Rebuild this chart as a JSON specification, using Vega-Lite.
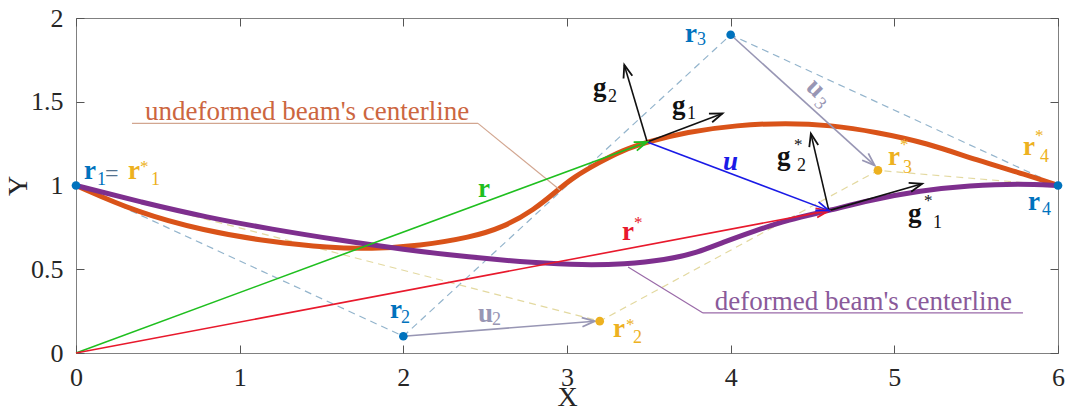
{
  "$schema": "https://vega.github.io/schema/vega-lite/v6.json",
  "autosize": {"type": "none"},
  "padding": {"left": 76, "top": 18, "right": 9, "bottom": 66},
  "width": 982,
  "height": 335,
  "background": "white",
  "config": {
    "view": {"stroke": "#808080", "strokeWidth": 1},
    "axis": {"grid": false, "domain": false, "tickSize": -8, "tickColor": "#555555", "tickWidth": 1,
      "labelFont": "Liberation Serif, Times New Roman, serif", "labelFontSize": 26, "labelColor": "#262626",
      "titleFont": "Liberation Serif, Times New Roman, serif", "titleFontSize": 28, "titleFontWeight": "normal", "titleColor": "#262626"},
    "text": {"font": "Liberation Serif, Times New Roman, serif"}
  },
  "datasets": {
    "curves": [
      {"grp": "undeformed", "i": 0, "x": 0, "y": 1},
      {"grp": "undeformed", "i": 1, "x": 0.37, "y": 0.84},
      {"grp": "undeformed", "i": 2, "x": 0.78, "y": 0.73},
      {"grp": "undeformed", "i": 3, "x": 1.19, "y": 0.663},
      {"grp": "undeformed", "i": 4, "x": 1.55, "y": 0.627},
      {"grp": "undeformed", "i": 5, "x": 1.8, "y": 0.622},
      {"grp": "undeformed", "i": 6, "x": 2.1, "y": 0.64},
      {"grp": "undeformed", "i": 7, "x": 2.41, "y": 0.69},
      {"grp": "undeformed", "i": 8, "x": 2.61, "y": 0.75},
      {"grp": "undeformed", "i": 9, "x": 2.8, "y": 0.855},
      {"grp": "undeformed", "i": 10, "x": 2.94, "y": 0.97},
      {"grp": "undeformed", "i": 11, "x": 3.04, "y": 1.05},
      {"grp": "undeformed", "i": 12, "x": 3.2, "y": 1.14},
      {"grp": "undeformed", "i": 13, "x": 3.34, "y": 1.21},
      {"grp": "undeformed", "i": 14, "x": 3.49, "y": 1.26},
      {"grp": "undeformed", "i": 15, "x": 3.73, "y": 1.319},
      {"grp": "undeformed", "i": 16, "x": 4.04, "y": 1.361},
      {"grp": "undeformed", "i": 17, "x": 4.34, "y": 1.373},
      {"grp": "undeformed", "i": 18, "x": 4.61, "y": 1.361},
      {"grp": "undeformed", "i": 19, "x": 4.89, "y": 1.319},
      {"grp": "undeformed", "i": 20, "x": 5.2, "y": 1.254},
      {"grp": "undeformed", "i": 21, "x": 5.5, "y": 1.152},
      {"grp": "undeformed", "i": 22, "x": 5.81, "y": 1.063},
      {"grp": "undeformed", "i": 23, "x": 6, "y": 1},
      {"grp": "deformed", "i": 0, "x": 0, "y": 1},
      {"grp": "deformed", "i": 1, "x": 0.4, "y": 0.9},
      {"grp": "deformed", "i": 2, "x": 0.8, "y": 0.81},
      {"grp": "deformed", "i": 3, "x": 1.2, "y": 0.738},
      {"grp": "deformed", "i": 4, "x": 1.6, "y": 0.675},
      {"grp": "deformed", "i": 5, "x": 2.0, "y": 0.618},
      {"grp": "deformed", "i": 6, "x": 2.4, "y": 0.572},
      {"grp": "deformed", "i": 7, "x": 2.8, "y": 0.538},
      {"grp": "deformed", "i": 8, "x": 3.1, "y": 0.525},
      {"grp": "deformed", "i": 9, "x": 3.35, "y": 0.53},
      {"grp": "deformed", "i": 10, "x": 3.6, "y": 0.555},
      {"grp": "deformed", "i": 11, "x": 3.8, "y": 0.6},
      {"grp": "deformed", "i": 12, "x": 3.95, "y": 0.66},
      {"grp": "deformed", "i": 13, "x": 4.15, "y": 0.73},
      {"grp": "deformed", "i": 14, "x": 4.35, "y": 0.795},
      {"grp": "deformed", "i": 15, "x": 4.6, "y": 0.85},
      {"grp": "deformed", "i": 16, "x": 4.85, "y": 0.913},
      {"grp": "deformed", "i": 17, "x": 5.16, "y": 0.97},
      {"grp": "deformed", "i": 18, "x": 5.46, "y": 1.0},
      {"grp": "deformed", "i": 19, "x": 5.77, "y": 1.012},
      {"grp": "deformed", "i": 20, "x": 6, "y": 1}
    ],
    "polys": [
      {"grp": "ctrlpoly", "i": 0, "x": 0, "y": 1},
      {"grp": "ctrlpoly", "i": 1, "x": 2, "y": 0.1},
      {"grp": "ctrlpoly", "i": 2, "x": 4, "y": 1.9},
      {"grp": "ctrlpoly", "i": 3, "x": 6, "y": 1},
      {"grp": "defpoly", "i": 0, "x": 0, "y": 1},
      {"grp": "defpoly", "i": 1, "x": 3.2, "y": 0.19},
      {"grp": "defpoly", "i": 2, "x": 4.9, "y": 1.09},
      {"grp": "defpoly", "i": 3, "x": 6, "y": 1}
    ],
    "leaders": [
      {"grp": "undefline", "x1": 0.342, "y1": 1.371, "x2": 2.456, "y2": 1.371},
      {"grp": "undefline", "x1": 2.456, "y1": 1.371, "x2": 2.957, "y2": 0.973},
      {"grp": "defline", "x1": 3.373, "y1": 0.513, "x2": 3.831, "y2": 0.239},
      {"grp": "defline", "x1": 3.831, "y1": 0.239, "x2": 5.786, "y2": 0.239}
    ],
    "arrows": [
      {"grp": "r", "x1": 0, "y1": 0, "x2": 3.49, "y2": 1.26},
      {"grp": "rstar", "x1": 0, "y1": 0, "x2": 4.6, "y2": 0.85},
      {"grp": "u", "x1": 3.49, "y1": 1.26, "x2": 4.6, "y2": 0.85},
      {"grp": "basis", "x1": 3.49, "y1": 1.26, "x2": 3.95, "y2": 1.43},
      {"grp": "basis", "x1": 3.49, "y1": 1.26, "x2": 3.35, "y2": 1.72},
      {"grp": "basis", "x1": 4.6, "y1": 0.85, "x2": 5.17, "y2": 1.01},
      {"grp": "basis", "x1": 4.6, "y1": 0.85, "x2": 4.49, "y2": 1.31},
      {"grp": "disp", "x1": 2, "y1": 0.1, "x2": 3.17, "y2": 0.19},
      {"grp": "disp", "x1": 4, "y1": 1.9, "x2": 4.88, "y2": 1.12}
    ],
    "points": [
      {"grp": "defctrl", "x": 3.2, "y": 0.19},
      {"grp": "defctrl", "x": 4.9, "y": 1.09},
      {"grp": "ctrl", "x": 0, "y": 1},
      {"grp": "ctrl", "x": 2, "y": 0.1},
      {"grp": "ctrl", "x": 4, "y": 1.9},
      {"grp": "ctrl", "x": 6, "y": 1}
    ],
    "labelsMain": [
      {"t": "r", "grp": "ctrl", "x": 0.049, "y": 1.039},
      {"t": "r", "grp": "defctrl", "x": 0.318, "y": 1.039},
      {"t": "r", "grp": "ctrl", "x": 1.918, "y": 0.209},
      {"t": "u", "grp": "disp", "x": 2.456, "y": 0.185},
      {"t": "r", "grp": "defctrl", "x": 3.281, "y": 0.096},
      {"t": "r", "grp": "ctrl", "x": 3.721, "y": 1.857},
      {"t": "r", "grp": "defctrl", "x": 4.961, "y": 1.122},
      {"t": "r", "grp": "defctrl", "x": 5.786, "y": 1.182},
      {"t": "r", "grp": "ctrl", "x": 5.817, "y": 0.854},
      {"t": "g", "grp": "basis", "x": 3.159, "y": 1.534},
      {"t": "g", "grp": "basis", "x": 3.641, "y": 1.427},
      {"t": "g", "grp": "basis", "x": 4.283, "y": 1.122},
      {"t": "g", "grp": "basis", "x": 5.083, "y": 0.782},
      {"t": "r", "grp": "r", "x": 2.456, "y": 0.931},
      {"t": "r", "grp": "rstar", "x": 3.336, "y": 0.675}
    ],
    "labelsSub": [
      {"t": "1", "grp": "ctrl", "x": 0.128, "y": 1.003},
      {"t": "1", "grp": "defctrl", "x": 0.458, "y": 1.003},
      {"t": "2", "grp": "ctrl", "x": 1.986, "y": 0.179},
      {"t": "2", "grp": "disp", "x": 2.542, "y": 0.167},
      {"t": "2", "grp": "defctrl", "x": 3.403, "y": 0.06},
      {"t": "3", "grp": "ctrl", "x": 3.794, "y": 1.839},
      {"t": "3", "grp": "defctrl", "x": 5.053, "y": 1.075},
      {"t": "4", "grp": "defctrl", "x": 5.89, "y": 1.14},
      {"t": "4", "grp": "ctrl", "x": 5.902, "y": 0.824},
      {"t": "2", "grp": "basis", "x": 3.25, "y": 1.499},
      {"t": "1", "grp": "basis", "x": 3.733, "y": 1.397},
      {"t": "2", "grp": "basis", "x": 4.405, "y": 1.087},
      {"t": "1", "grp": "basis", "x": 5.236, "y": 0.746}
    ],
    "labelsStar": [
      {"t": "*", "grp": "defctrl", "x": 0.391, "y": 1.081},
      {"t": "*", "grp": "defctrl", "x": 3.36, "y": 0.137},
      {"t": "*", "grp": "defctrl", "x": 5.035, "y": 1.212},
      {"t": "*", "grp": "defctrl", "x": 5.859, "y": 1.266},
      {"t": "*", "grp": "basis", "x": 4.387, "y": 1.212},
      {"t": "*", "grp": "basis", "x": 5.181, "y": 0.878},
      {"t": "*", "grp": "rstar", "x": 3.409, "y": 0.746}
    ],
    "labelsEq": [
      {"t": "=", "grp": "eq", "x": 0.177, "y": 1.027}
    ],
    "labelsU": [
      {"t": "u", "grp": "u", "x": 3.953, "y": 1.093}
    ],
    "labelsU3": [
      {"t": "u", "grp": "disp", "x": 4.521, "y": 1.582, "sz": "main"},
      {"t": "3", "grp": "disp", "x": 4.546, "y": 1.487, "sz": "sub"}
    ],
    "notes": [
      {"t": "undeformed beam's centerline", "grp": "undeflabel", "x": 1.412, "y": 1.391},
      {"t": "deformed beam's centerline", "grp": "deflabel", "x": 4.811, "y": 0.257}
    ]
  },
  "layer": [
    {
      "data": {"name": "polys"},
      "mark": {"type": "line", "strokeWidth": 1.2, "strokeDash": [7, 5]},
      "encoding": {
        "x": {"field": "x", "type": "quantitative", "scale": {"domain": [0, 6], "nice": false, "zero": false},
          "axis": {"orient": "top", "values": [0, 1, 2, 3, 4, 5, 6], "labels": false, "title": null}},
        "y": {"field": "y", "type": "quantitative", "scale": {"domain": [0, 2], "nice": false, "zero": false},
          "axis": {"orient": "right", "values": [0, 0.5, 1, 1.5, 2], "labels": false, "title": null}},
        "order": {"field": "i", "type": "quantitative"},
        "detail": {"field": "grp"},
        "color": {"field": "grp", "type": "nominal", "legend": null,
          "scale": {"domain": ["undeformed", "deformed", "ctrl", "defctrl", "basis", "r", "rstar", "u", "disp", "eq", "undeflabel", "deflabel", "undefline", "defline", "ctrlpoly", "defpoly"],
            "range": ["#D95319", "#7E2F8E", "#0072BD", "#EDB120", "#111111", "#1fbf1f", "#e8192c", "#1a1ae6", "#9896b4", "#53728f", "#cc6640", "#8a5a9a", "#d2a690", "#9a6aa8", "#93b4cc", "#e3d9a0"]}}
      }
    },
    {
      "data": {"name": "curves"},
      "mark": {"type": "line", "strokeWidth": 5, "interpolate": "basis", "strokeCap": "round"},
      "encoding": {
        "x": {"field": "x", "type": "quantitative",
          "axis": {"orient": "bottom", "values": [0, 1, 2, 3, 4, 5, 6], "format": "~g", "labelFlush": false, "labelPadding": 19, "title": "X", "titlePadding": -7}},
        "y": {"field": "y", "type": "quantitative",
          "axis": {"orient": "left", "values": [0, 0.5, 1, 1.5, 2], "format": "~g", "labelFlush": false, "labelPadding": 21, "title": "Y", "titlePadding": -2}},
        "order": {"field": "i", "type": "quantitative"},
        "detail": {"field": "grp"},
        "color": {"field": "grp", "type": "nominal", "legend": null}
      }
    },
    {
      "data": {"name": "leaders"},
      "mark": {"type": "rule", "strokeWidth": 1.2},
      "encoding": {
        "x": {"field": "x1", "type": "quantitative", "axis": null},
        "y": {"field": "y1", "type": "quantitative", "axis": null},
        "x2": {"field": "x2"},
        "y2": {"field": "y2"},
        "color": {"field": "grp", "type": "nominal", "legend": null}
      }
    },
    {
      "data": {"name": "arrows"},
      "mark": {"type": "rule", "strokeWidth": 1.6},
      "encoding": {
        "x": {"field": "x1", "type": "quantitative", "axis": null},
        "y": {"field": "y1", "type": "quantitative", "axis": null},
        "x2": {"field": "x2"},
        "y2": {"field": "y2"},
        "color": {"field": "grp", "type": "nominal", "legend": null}
      }
    },
    {
      "data": {"name": "arrows"},
      "transform": [
        {"calculate": "atan2((datum.x2-datum.x1)*163.67,(datum.y2-datum.y1)*167.5)*180/PI", "as": "ang"}
      ],
      "mark": {"type": "point", "shape": "M -0.36 1 L 0 0 L 0.36 1", "size": 650, "filled": false, "strokeWidth": 1.8, "opacity": 1},
      "encoding": {
        "x": {"field": "x2", "type": "quantitative", "axis": null},
        "y": {"field": "y2", "type": "quantitative", "axis": null},
        "angle": {"field": "ang", "type": "quantitative", "scale": null},
        "color": {"field": "grp", "type": "nominal", "legend": null}
      }
    },
    {
      "data": {"name": "points"},
      "mark": {"type": "point", "shape": "circle", "size": 75, "filled": true, "opacity": 1},
      "encoding": {
        "x": {"field": "x", "type": "quantitative", "axis": null},
        "y": {"field": "y", "type": "quantitative", "axis": null},
        "color": {"field": "grp", "type": "nominal", "legend": null}
      }
    },
    {
      "data": {"name": "labelsMain"},
      "mark": {"type": "text", "fontSize": 27, "fontWeight": "bold", "align": "left", "baseline": "alphabetic"},
      "encoding": {
        "x": {"field": "x", "type": "quantitative", "axis": null},
        "y": {"field": "y", "type": "quantitative", "axis": null},
        "text": {"field": "t"},
        "color": {"field": "grp", "type": "nominal", "legend": null}
      }
    },
    {
      "data": {"name": "labelsSub"},
      "mark": {"type": "text", "fontSize": 18, "align": "left", "baseline": "alphabetic"},
      "encoding": {
        "x": {"field": "x", "type": "quantitative", "axis": null},
        "y": {"field": "y", "type": "quantitative", "axis": null},
        "text": {"field": "t"},
        "color": {"field": "grp", "type": "nominal", "legend": null}
      }
    },
    {
      "data": {"name": "labelsStar"},
      "mark": {"type": "text", "fontSize": 17, "align": "left", "baseline": "alphabetic"},
      "encoding": {
        "x": {"field": "x", "type": "quantitative", "axis": null},
        "y": {"field": "y", "type": "quantitative", "axis": null},
        "text": {"field": "t"},
        "color": {"field": "grp", "type": "nominal", "legend": null}
      }
    },
    {
      "data": {"name": "labelsEq"},
      "mark": {"type": "text", "fontSize": 24, "align": "left", "baseline": "alphabetic"},
      "encoding": {
        "x": {"field": "x", "type": "quantitative", "axis": null},
        "y": {"field": "y", "type": "quantitative", "axis": null},
        "text": {"field": "t"},
        "color": {"field": "grp", "type": "nominal", "legend": null}
      }
    },
    {
      "data": {"name": "labelsU"},
      "mark": {"type": "text", "fontSize": 27, "fontWeight": "bold", "fontStyle": "italic", "align": "left", "baseline": "alphabetic"},
      "encoding": {
        "x": {"field": "x", "type": "quantitative", "axis": null},
        "y": {"field": "y", "type": "quantitative", "axis": null},
        "text": {"field": "t"},
        "color": {"field": "grp", "type": "nominal", "legend": null}
      }
    },
    {
      "data": {"name": "labelsU3"},
      "transform": [{"filter": "datum.sz == 'main'"}],
      "mark": {"type": "text", "fontSize": 27, "fontWeight": "bold", "align": "center", "baseline": "middle", "angle": 45},
      "encoding": {
        "x": {"field": "x", "type": "quantitative", "axis": null},
        "y": {"field": "y", "type": "quantitative", "axis": null},
        "text": {"field": "t"},
        "color": {"field": "grp", "type": "nominal", "legend": null}
      }
    },
    {
      "data": {"name": "labelsU3"},
      "transform": [{"filter": "datum.sz == 'sub'"}],
      "mark": {"type": "text", "fontSize": 18, "align": "center", "baseline": "middle", "angle": 45},
      "encoding": {
        "x": {"field": "x", "type": "quantitative", "axis": null},
        "y": {"field": "y", "type": "quantitative", "axis": null},
        "text": {"field": "t"},
        "color": {"field": "grp", "type": "nominal", "legend": null}
      }
    },
    {
      "data": {"name": "notes"},
      "mark": {"type": "text", "fontSize": 27, "align": "center", "baseline": "alphabetic"},
      "encoding": {
        "x": {"field": "x", "type": "quantitative", "axis": null},
        "y": {"field": "y", "type": "quantitative", "axis": null},
        "text": {"field": "t"},
        "color": {"field": "grp", "type": "nominal", "legend": null}
      }
    }
  ],
  "resolve": {"axis": {"x": "independent", "y": "independent"}}
}
